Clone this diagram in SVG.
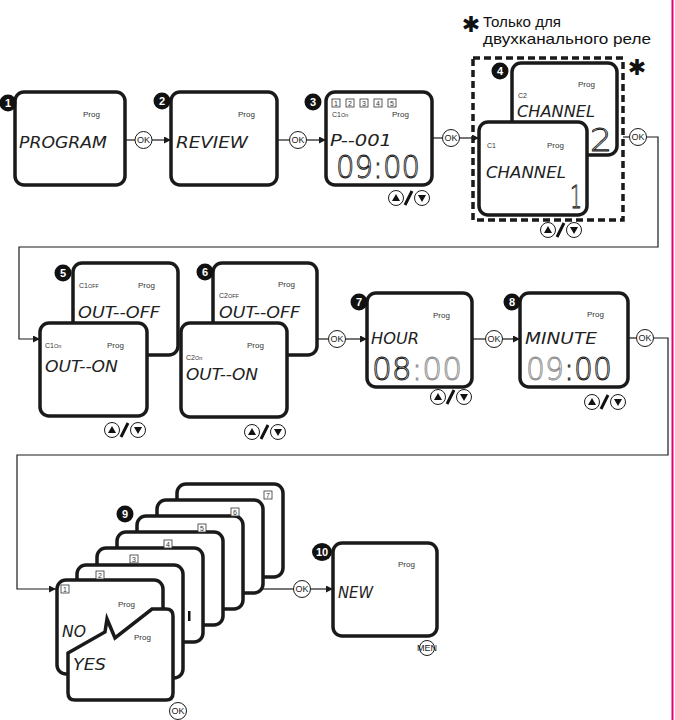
<svg xmlns="http://www.w3.org/2000/svg" xmlns:xlink="http://www.w3.org/1999/xlink" width="675" height="720" viewBox="0 0 675 720">
<style>
.scr{fill:#fff;stroke:#1a1a1a;stroke-width:3.5}
.con{fill:none;stroke:#1a1a1a;stroke-width:1.2}
.arr{fill:none;stroke:#1a1a1a;stroke-width:1.2;marker-end:url(#ah)}
.prog{font-family:"Liberation Sans",Arial,sans-serif;font-size:8px;fill:#333}
.ch{font-family:"Liberation Sans",Arial,sans-serif;font-size:7px;fill:#333}
.lcd{font-family:"DejaVu Sans","Liberation Sans",sans-serif;font-weight:200;font-style:italic;font-size:15px;fill:#222}
.big{font-family:"DejaVu Sans","Liberation Sans",sans-serif;font-weight:200;font-size:32px;fill:#fff;stroke:#111;stroke-width:0.9}
.grey{stroke:#8a8a8a}
.badge{fill:#111}
.bt{font-family:"Liberation Sans",Arial,sans-serif;font-weight:bold;font-size:11px;fill:#fff;text-anchor:middle}
.okc{fill:#fff;stroke:#1a1a1a;stroke-width:1}
.okt{font-family:"Liberation Sans",Arial,sans-serif;font-size:9px;fill:#1a1a1a;text-anchor:middle}
.sq{fill:#fff;stroke:#333;stroke-width:0.8}
.sqt{font-family:"Liberation Sans",Arial,sans-serif;font-size:7px;fill:#333;text-anchor:middle}
.note{font-family:"Liberation Sans","DejaVu Sans",sans-serif;font-size:15px;fill:#111}
.star{font-family:"DejaVu Sans",sans-serif;fill:#111;text-anchor:middle}
</style>
<defs>
<marker id="ah" viewBox="0 0 10 10" refX="10" refY="5" markerWidth="7" markerHeight="7" markerUnits="userSpaceOnUse" orient="auto">
<path d="M0,0 L10,5 L0,10 Z" fill="#1a1a1a"/>
</marker>
<g id="ud">
<circle cx="0" cy="0" r="7.5" class="okc" stroke-width="1.2"/>
<path d="M0,-4 L-4,3 L4,3 Z" fill="#111"/>
<line x1="9" y1="7" x2="16" y2="-7" stroke="#111" stroke-width="3"/>
<circle cx="26" cy="0" r="7.5" class="okc" stroke-width="1.2"/>
<path d="M26,4 L22,-3 L30,-3 Z" fill="#111"/>
</g>
<g id="okb">
<circle cx="0" cy="0" r="8.5" class="okc"/>
<text x="0" y="3.3" class="okt">OK</text>
</g>
</defs>

<rect x="0" y="0" width="675" height="720" fill="#fff"/>
<line x1="672.5" y1="0" x2="672.5" y2="720" stroke="#e2007a" stroke-width="2"/>

<!-- note -->
<g id="note">
<text x="471" y="32" class="star" font-size="22">✱</text>
<text x="483" y="27" class="note" textLength="78" lengthAdjust="spacingAndGlyphs">Только для</text>
<text x="483" y="44" class="note" textLength="168" lengthAdjust="spacingAndGlyphs">двухканального реле</text>
</g>

<!-- connectors -->
<g id="connectors">
<line x1="125" y1="140" x2="135" y2="140" class="con"/>
<use xlink:href="#okb" x="143.5" y="140"/>
<line x1="152" y1="140" x2="171" y2="140" class="arr"/>

<line x1="277" y1="140" x2="290" y2="140" class="con"/>
<use xlink:href="#okb" x="298" y="140"/>
<line x1="306.5" y1="140" x2="326" y2="140" class="arr"/>

<line x1="432" y1="138" x2="442.5" y2="138" class="con"/>
<use xlink:href="#okb" x="451" y="138"/>
<line x1="459.5" y1="138" x2="479" y2="138" class="arr"/>

<line x1="623" y1="137" x2="629.5" y2="137" class="con"/>
<use xlink:href="#okb" x="638" y="137"/>
<polyline points="646.5,137 658,137 658,247 19,247 19,339 40,339" class="arr"/>

<line x1="317" y1="339" x2="328.5" y2="339" class="con"/>
<use xlink:href="#okb" x="337" y="339"/>
<line x1="345.5" y1="339" x2="367" y2="339" class="arr"/>

<line x1="472" y1="339" x2="485.5" y2="339" class="con"/>
<use xlink:href="#okb" x="494" y="339"/>
<line x1="502.5" y1="339" x2="520" y2="339" class="arr"/>

<line x1="628" y1="338" x2="636.5" y2="338" class="con"/>
<use xlink:href="#okb" x="645" y="338"/>
<polyline points="653.5,338 668,338 668,455 17,455 17,589 56,589" class="arr"/>

<line x1="263" y1="589" x2="293.5" y2="589" class="con"/>
<use xlink:href="#okb" x="302" y="589"/>
<line x1="310.5" y1="589" x2="333" y2="589" class="arr"/>
</g>

<!-- step 1 -->
<g id="step1">
<rect x="15" y="92" width="110" height="93" rx="9" class="scr"/>
<circle cx="8" cy="103" r="8.5" class="badge"/><text x="8" y="107" class="bt">1</text>
<text x="83" y="117" class="prog">Prog</text>
<text x="19" y="148" class="lcd" textLength="88" lengthAdjust="spacingAndGlyphs">PROGRAM</text>
</g>

<!-- step 2 -->
<g id="step2">
<rect x="171" y="92" width="106" height="93" rx="9" class="scr"/>
<circle cx="162" cy="101" r="8.5" class="badge"/><text x="162" y="105" class="bt">2</text>
<text x="238" y="117" class="prog">Prog</text>
<text x="176" y="148" class="lcd" textLength="72" lengthAdjust="spacingAndGlyphs">REVIEW</text>
</g>

<!-- step 3 -->
<g id="step3">
<rect x="326" y="92" width="106" height="93" rx="9" class="scr"/>
<circle cx="313" cy="102" r="8.5" class="badge"/><text x="313" y="106" class="bt">3</text>
<rect x="332" y="99" width="8" height="8" class="sq"/><text x="336" y="105.5" class="sqt">1</text>
<rect x="346" y="99" width="8" height="8" class="sq"/><text x="350" y="105.5" class="sqt">2</text>
<rect x="360" y="99" width="8" height="8" class="sq"/><text x="364" y="105.5" class="sqt">3</text>
<rect x="374" y="99" width="8" height="8" class="sq"/><text x="378" y="105.5" class="sqt">4</text>
<rect x="388" y="99" width="8" height="8" class="sq"/><text x="392" y="105.5" class="sqt">5</text>
<text x="332" y="117" class="ch">C1<tspan font-size="5.5">On</tspan></text>
<text x="392" y="117" class="prog">Prog</text>
<text x="330" y="146" class="lcd" textLength="62" lengthAdjust="spacingAndGlyphs">P--001</text>
<text x="336" y="178" class="big" textLength="84" lengthAdjust="spacingAndGlyphs">09:00</text>
<use xlink:href="#ud" x="396" y="198"/>
</g>

<!-- step 4 -->
<g id="step4">
<rect x="473" y="58" width="150" height="162" fill="none" stroke="#1a1a1a" stroke-width="3.5" stroke-dasharray="7 4"/>
<text x="637" y="75" class="star" font-size="22">✱</text>
<rect x="512" y="63" width="105" height="92" rx="9" class="scr"/>
<text x="578" y="87" class="prog">Prog</text>
<text x="518" y="98" class="ch">C2</text>
<text x="517" y="117" class="lcd" textLength="78" lengthAdjust="spacingAndGlyphs">CHANNEL</text>
<text x="590" y="151" class="big" textLength="22" lengthAdjust="spacingAndGlyphs">2</text>
<rect x="479" y="122" width="108" height="93" rx="9" class="scr"/>
<circle cx="500" cy="71" r="8.5" class="badge"/><text x="500" y="75" class="bt">4</text>
<text x="487" y="148" class="ch">C1</text>
<text x="547" y="148" class="prog">Prog</text>
<text x="486" y="178" class="lcd" textLength="80" lengthAdjust="spacingAndGlyphs">CHANNEL</text>
<text x="570" y="208" class="big" textLength="12" lengthAdjust="spacingAndGlyphs">1</text>
<use xlink:href="#ud" x="548" y="230"/>
</g>

<!-- step 5 -->
<g id="step5">
<rect x="73" y="263" width="105" height="92" rx="9" class="scr"/>
<circle cx="63" cy="273" r="8.5" class="badge"/><text x="63" y="277" class="bt">5</text>
<text x="79" y="288" class="ch">C1<tspan font-size="5.5">OFF</tspan></text>
<text x="138" y="288" class="prog">Prog</text>
<text x="78" y="318" class="lcd" textLength="82" lengthAdjust="spacingAndGlyphs">OUT--OFF</text>
<rect x="40" y="323" width="107" height="93" rx="9" class="scr"/>
<text x="45" y="348" class="ch">C1<tspan font-size="5.5">On</tspan></text>
<text x="107" y="348" class="prog">Prog</text>
<text x="45" y="372" class="lcd" textLength="73" lengthAdjust="spacingAndGlyphs">OUT--ON</text>
<use xlink:href="#ud" x="112" y="430"/>
</g>

<!-- step 6 -->
<g id="step6">
<rect x="213" y="263" width="104" height="92" rx="9" class="scr"/>
<circle cx="205" cy="272" r="8.5" class="badge"/><text x="205" y="276" class="bt">6</text>
<text x="278" y="287" class="prog">Prog</text>
<text x="219" y="298" class="ch">C2<tspan font-size="5.5">OFF</tspan></text>
<text x="219" y="318" class="lcd" textLength="81" lengthAdjust="spacingAndGlyphs">OUT--OFF</text>
<rect x="181" y="323" width="106" height="94" rx="9" class="scr"/>
<text x="247" y="348" class="prog">Prog</text>
<text x="186" y="360" class="ch">C2<tspan font-size="5.5">On</tspan></text>
<text x="186" y="380" class="lcd" textLength="72" lengthAdjust="spacingAndGlyphs">OUT--ON</text>
<use xlink:href="#ud" x="252" y="432"/>
</g>

<!-- step 7 -->
<g id="step7">
<rect x="367" y="293" width="105" height="94" rx="9" class="scr"/>
<circle cx="359" cy="302" r="8.5" class="badge"/><text x="359" y="306" class="bt">7</text>
<text x="433" y="318" class="prog">Prog</text>
<text x="371" y="344" class="lcd" textLength="48" lengthAdjust="spacingAndGlyphs">HOUR</text>
<text x="372" y="380" class="big" font-size="30" textLength="90" lengthAdjust="spacingAndGlyphs">08<tspan class="grey">:00</tspan></text>
<use xlink:href="#ud" x="438" y="397"/>
</g>

<!-- step 8 -->
<g id="step8">
<rect x="520" y="293" width="108" height="94" rx="9" class="scr"/>
<circle cx="512" cy="302" r="8.5" class="badge"/><text x="512" y="306" class="bt">8</text>
<text x="587" y="317" class="prog">Prog</text>
<text x="525" y="344" class="lcd" textLength="72" lengthAdjust="spacingAndGlyphs">MINUTE</text>
<text x="526" y="380" class="big" font-size="30" textLength="86" lengthAdjust="spacingAndGlyphs"><tspan class="grey">09</tspan>:00</text>
<use xlink:href="#ud" x="592" y="402"/>
</g>

<!-- step 9 -->
<g id="step9">
<rect x="177" y="484" width="106" height="93" rx="9" class="scr"/>
<rect x="157" y="500" width="106" height="93" rx="9" class="scr"/>
<rect x="137" y="516" width="106" height="93" rx="9" class="scr"/>
<rect x="117" y="532" width="106" height="93" rx="9" class="scr"/>
<rect x="97" y="548" width="106" height="94" rx="9" class="scr"/>
<rect x="77" y="565" width="106" height="113" rx="9" class="scr"/>
<rect x="57" y="580" width="106" height="94" rx="9" class="scr"/>
<rect x="264" y="491" width="8" height="8" class="sq"/><text x="268" y="497.5" class="sqt">7</text>
<rect x="231" y="508" width="8" height="8" class="sq"/><text x="235" y="514.5" class="sqt">6</text>
<rect x="198" y="524" width="8" height="8" class="sq"/><text x="202" y="530.5" class="sqt">5</text>
<rect x="164" y="540" width="8" height="8" class="sq"/><text x="168" y="546.5" class="sqt">4</text>
<rect x="130" y="555" width="8" height="8" class="sq"/><text x="134" y="561.5" class="sqt">3</text>
<rect x="96" y="571" width="8" height="8" class="sq"/><text x="100" y="577.5" class="sqt">2</text>
<rect x="61" y="585" width="8" height="8" class="sq"/><text x="65" y="591.5" class="sqt">1</text>
<rect x="188" y="611" width="2.5" height="10" fill="#111"/>
<circle cx="125" cy="514" r="8.5" class="badge"/><text x="125" y="518" class="bt">9</text>
<text x="118" y="607" class="prog">Prog</text>
<text x="62" y="637" class="lcd" textLength="24" lengthAdjust="spacingAndGlyphs">NO</text>
<path d="M68,653 L105,632 L107,619 L115,638 L152,609 L166,609 Q173,609 173,616 L173,693 Q173,700 166,700 L75,700 Q68,700 68,693 Z" class="scr"/>
<text x="134" y="640" class="prog">Prog</text>
<text x="73" y="670" class="lcd" textLength="33" lengthAdjust="spacingAndGlyphs">YES</text>
<use xlink:href="#okb" x="178" y="711"/>
</g>

<!-- step 10 -->
<g id="step10">
<rect x="333" y="543" width="104" height="93" rx="9" class="scr"/>
<ellipse cx="322" cy="552" rx="10" ry="9" class="badge"/><text x="322" y="556" class="bt" font-size="10">10</text>
<text x="398" y="567" class="prog">Prog</text>
<text x="338" y="598" class="lcd" textLength="35" lengthAdjust="spacingAndGlyphs">NEW</text>
<circle cx="427" cy="648" r="7.5" class="okc"/>
<text x="427" y="650.5" class="okt" font-size="6">MEN</text>
</g>
</svg>
